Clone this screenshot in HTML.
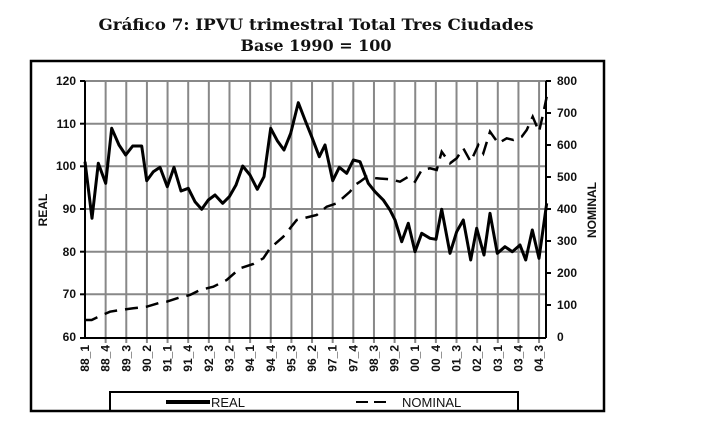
<!DOCTYPE html>
<html><head><meta charset="utf-8"><style>
html,body{margin:0;padding:0;background:#fff;}
svg{display:block;}
</style></head><body>
<svg width="701" height="424" viewBox="0 0 701 424" xmlns="http://www.w3.org/2000/svg">
<text x="316" y="30" text-anchor="middle" textLength="435" lengthAdjust="spacingAndGlyphs" font-family="DejaVu Serif, serif" font-weight="bold" font-size="16" fill="#111">Gráfico 7: IPVU trimestral Total Tres Ciudades</text>
<text x="316" y="51" text-anchor="middle" font-family="DejaVu Serif, serif" font-weight="bold" font-size="16" fill="#111">Base 1990 = 100</text>
<rect x="31" y="61" width="573" height="350" fill="none" stroke="#000" stroke-width="2.5"/>
<g stroke="#888" stroke-width="2">
<line x1="85" x2="546" y1="81" y2="81"/><line x1="85" x2="546" y1="123.7" y2="123.7"/><line x1="85" x2="546" y1="166.3" y2="166.3"/><line x1="85" x2="546" y1="209" y2="209"/><line x1="85" x2="546" y1="251.7" y2="251.7"/><line x1="85" x2="546" y1="294.3" y2="294.3"/>
</g>
<g id="vg" stroke="#888" stroke-width="2"></g>
<g font-family="Liberation Sans, sans-serif" font-size="12" fill="#111" font-weight="bold">
<text x="76" y="85" text-anchor="end">120</text><text x="76" y="128" text-anchor="end">110</text><text x="76" y="170" text-anchor="end">100</text><text x="76" y="213" text-anchor="end">90</text><text x="76" y="256" text-anchor="end">80</text><text x="76" y="298" text-anchor="end">70</text><text x="76" y="341" text-anchor="end">60</text>
<text x="557" y="85">800</text><text x="557" y="117">700</text><text x="557" y="149">600</text><text x="557" y="181">500</text><text x="557" y="213">400</text><text x="557" y="245">300</text><text x="557" y="277">200</text><text x="557" y="309">100</text><text x="557" y="341">0</text>
<text transform="translate(47,210) rotate(-90)" text-anchor="middle">REAL</text>
<text transform="translate(596,210) rotate(-90)" text-anchor="middle">NOMINAL</text>
</g>
<g id="xl" font-family="Liberation Sans, sans-serif" font-size="12" fill="#111" font-weight="bold"></g>
<g stroke="#000" stroke-width="2">
<line x1="85" y1="81" x2="85" y2="338"/><line x1="546" y1="81" x2="546" y2="338"/><line x1="85" y1="338" x2="546" y2="338"/>
<line x1="80" x2="85" y1="81" y2="81"/><line x1="80" x2="85" y1="123.7" y2="123.7"/><line x1="80" x2="85" y1="166.3" y2="166.3"/><line x1="80" x2="85" y1="209" y2="209"/><line x1="80" x2="85" y1="251.7" y2="251.7"/><line x1="80" x2="85" y1="294.3" y2="294.3"/><line x1="80" x2="85" y1="338" y2="338"/>
<line x1="546" x2="551" y1="81" y2="81"/><line x1="546" x2="551" y1="113" y2="113"/><line x1="546" x2="551" y1="145" y2="145"/><line x1="546" x2="551" y1="177" y2="177"/><line x1="546" x2="551" y1="209" y2="209"/><line x1="546" x2="551" y1="241" y2="241"/><line x1="546" x2="551" y1="273" y2="273"/><line x1="546" x2="551" y1="305" y2="305"/>
</g>
<polyline fill="none" stroke="#000" stroke-width="2.5" stroke-dasharray="13,8" points="85,320 91.7,320 100,316 110,311.7 120,310 133.3,308.3 146.7,306.7 160,302.7 166.7,301.7 180,297.3 190,295 200,290 213.3,286.7 226.7,280 240,268.3 253.3,264 263.3,258.3 270,248.3 283.3,236.7 296.7,220 303.3,218.3 316.7,215 326.7,206.7 336.7,203.3 350,191.7 355,185 360,181.7 366.7,176.7 376.7,178.3 390,179.3 400,181.7 408.3,176.7 415,181.7 421.7,170 430,168.3 436.7,170 441.7,151.7 450,163.3 456.7,158.3 463.3,148.3 470.7,161.7 478.3,145 483.3,153.3 490,131.7 498.3,143.3 506.7,138.3 513.3,140 521.7,136.7 526.7,130 532.7,116.7 539,131.7 543.3,113.3 546.7,96.7"/>
<polyline fill="none" stroke="#000" stroke-width="3" stroke-linejoin="round" points="85,161.7 92,218.3 98.3,163.3 105.7,183.3 111.7,128.3 119,145 125.7,155 132.7,146 141.7,146 146.7,180.7 153.3,171.7 160,167.3 167.3,186.7 174,167.3 181,191 188.3,188.3 195,201.7 201.7,209.3 208.3,200 215,195 222.7,203.3 229.3,196.7 236,185 242.7,166 250,175 257.3,189.3 264,176.7 270.7,128.3 277.3,140.7 284,150 290.7,133.3 298.3,102.7 305,120 311.7,136.7 319.3,156.7 325,145 332.7,180.7 339.3,167.3 346.7,173.3 353.3,160 360,161.7 368.3,183.3 375,191.7 383.3,200 390,210 395,220 401.7,241.7 408.3,223.3 415,251.7 421.7,233.3 430,238.3 436,239.3 441.7,209.3 450,253.3 456.7,231.7 463.3,220 470.7,260 476.7,228.3 484,255 490,213.3 497.3,253.3 505,246.7 512.3,251.7 520,245 525.7,260 532.3,230 539,258.3 546.7,203.3"/>
<rect x="110" y="392" width="408" height="19" fill="none" stroke="#000" stroke-width="2"/>
<line x1="166" y1="402" x2="210" y2="402" stroke="#000" stroke-width="4"/>
<text x="211" y="407" font-family="Liberation Sans, sans-serif" font-size="13" fill="#111">REAL</text>
<line x1="356" y1="402" x2="392" y2="402" stroke="#000" stroke-width="2" stroke-dasharray="12,6"/>
<text x="402" y="407" font-family="Liberation Sans, sans-serif" font-size="13" fill="#111">NOMINAL</text>
<script>
var labs=["88_1","88_4","89_3","90_2","91_1","91_4","92_3","93_2","94_1","94_4","95_3","96_2","97_1","97_4","98_3","99_2","00_1","00_4","01_3","02_2","03_1","03_4","04_3"];
var vg=document.getElementById("vg"),xl=document.getElementById("xl"),ns="http://www.w3.org/2000/svg";
labs.forEach(function(l,k){var x=85+k*20.64;
if(k>0){var ln=document.createElementNS(ns,"line");ln.setAttribute("x1",x);ln.setAttribute("x2",x);ln.setAttribute("y1",81);ln.setAttribute("y2",343);vg.appendChild(ln);}
var t=document.createElementNS(ns,"text");t.setAttribute("transform","translate("+(x+4)+",345) rotate(-90)");t.setAttribute("text-anchor","end");t.textContent=l;xl.appendChild(t);});
</script>
</svg>
</body></html>
